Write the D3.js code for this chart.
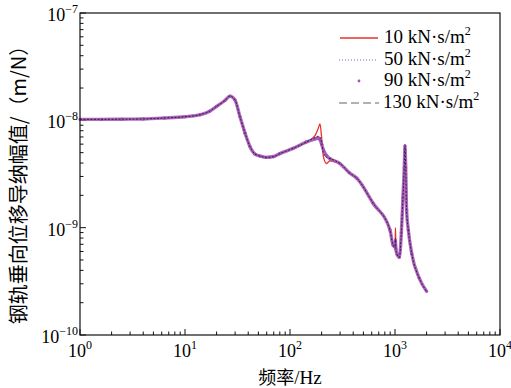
<!DOCTYPE html>
<html>
<head>
<meta charset="utf-8">
<script src="https://cdn.jsdelivr.net/npm/d3@7"></script>
<style>
  html, body { margin: 0; padding: 0; background: #fff; }
</style>
</head>
<body>
<div id="chart"></div>
<script>
// frequency samples (Hz), shared by all series
const freq = [1, 1.6, 2.5, 4, 6.3, 10, 14, 17, 20, 24, 26.8, 29.9, 33.4, 37.3, 41.6, 46.4, 51.8, 59, 70, 80,
  107, 144, 173, 185, 193, 200, 208, 223, 240, 299, 367, 431, 621, 896, 957, 1000, 1011, 1020, 1050, 1099,
  1150, 1190, 1225, 1245, 1265, 1290, 1340, 1443, 1706, 2000];

// rail receptance amplitude (m/N) per damping value
const amp10 = [1.02e-8, 1.02e-8, 1.025e-8, 1.03e-8, 1.05e-8, 1.08e-8, 1.13e-8, 1.21e-8, 1.35e-8, 1.53e-8, 1.68e-8, 1.55e-8, 1.08e-8, 7.6e-9, 5.68e-9, 4.85e-9, 4.65e-9, 4.52e-9, 4.6e-9, 4.9e-9,
  5.48e-9, 6.3e-9, 7.2e-9, 8.3e-9, 9.25e-9, 7.0e-9, 4.6e-9, 3.96e-9, 4.2e-9, 3.96e-9, 3.25e-9, 2.9e-9, 1.68e-9, 9.5e-10, 6.9e-10, 6.6e-10, 1.0e-9, 6.4e-10, 5.6e-10, 5.3e-10,
  9e-10, 1.9e-9, 3.6e-9, 5.9e-9, 3.6e-9, 1.45e-9, 9.5e-10, 5.75e-10, 3.37e-10, 2.55e-10];
const amp50 = [1.02e-8, 1.02e-8, 1.025e-8, 1.03e-8, 1.05e-8, 1.08e-8, 1.13e-8, 1.21e-8, 1.35e-8, 1.53e-8, 1.68e-8, 1.55e-8, 1.08e-8, 7.6e-9, 5.68e-9, 4.85e-9, 4.65e-9, 4.52e-9, 4.6e-9, 4.9e-9,
  5.48e-9, 6.3e-9, 6.9e-9, 7.1e-9, 7.0e-9, 6.2e-9, 5.0e-9, 4.5e-9, 4.4e-9, 3.96e-9, 3.25e-9, 2.9e-9, 1.68e-9, 9.5e-10, 6.9e-10, 6.6e-10, 8.0e-10, 6.3e-10, 5.6e-10, 5.3e-10,
  9e-10, 1.9e-9, 3.6e-9, 5.8e-9, 3.6e-9, 1.45e-9, 9.5e-10, 5.75e-10, 3.37e-10, 2.55e-10];
const amp90 = [1.02e-8, 1.02e-8, 1.025e-8, 1.03e-8, 1.05e-8, 1.08e-8, 1.13e-8, 1.21e-8, 1.35e-8, 1.53e-8, 1.68e-8, 1.55e-8, 1.08e-8, 7.6e-9, 5.68e-9, 4.85e-9, 4.65e-9, 4.52e-9, 4.6e-9, 4.9e-9,
  5.48e-9, 6.3e-9, 6.7e-9, 6.85e-9, 6.6e-9, 6.0e-9, 5.3e-9, 4.7e-9, 4.4e-9, 3.96e-9, 3.25e-9, 2.9e-9, 1.68e-9, 9.5e-10, 6.9e-10, 6.6e-10, 7.6e-10, 6.3e-10, 5.6e-10, 5.3e-10,
  9e-10, 1.9e-9, 3.6e-9, 5.8e-9, 3.6e-9, 1.45e-9, 9.5e-10, 5.75e-10, 3.37e-10, 2.55e-10];
const amp130 = [1.02e-8, 1.02e-8, 1.025e-8, 1.03e-8, 1.05e-8, 1.08e-8, 1.13e-8, 1.21e-8, 1.35e-8, 1.53e-8, 1.68e-8, 1.55e-8, 1.08e-8, 7.6e-9, 5.68e-9, 4.85e-9, 4.65e-9, 4.52e-9, 4.6e-9, 4.9e-9,
  5.48e-9, 6.3e-9, 6.65e-9, 6.75e-9, 6.5e-9, 6.0e-9, 5.4e-9, 4.75e-9, 4.4e-9, 3.96e-9, 3.25e-9, 2.9e-9, 1.68e-9, 9.5e-10, 6.9e-10, 6.6e-10, 7.3e-10, 6.3e-10, 5.6e-10, 5.3e-10,
  9e-10, 1.9e-9, 3.6e-9, 5.8e-9, 3.6e-9, 1.45e-9, 9.5e-10, 5.75e-10, 3.37e-10, 2.55e-10];

const seriesLabels = ['10 kN·s/m', '50 kN·s/m', '90 kN·s/m', '130 kN·s/m'];
const xTickExp = [0, 1, 2, 3, 4];
const yTickExp = [-10, -9, -8, -7];

const SERIF = '"Liberation Serif", "Times New Roman", "DejaVu Serif", serif';
const CJK = '"Noto Sans CJK SC", "Noto Sans CJK JP", sans-serif';

const W = 511, H = 388;
const margin = { top: 13, right: 11, bottom: 53, left: 80 };
const innerW = W - margin.left - margin.right;
const innerH = H - margin.top - margin.bottom;

const svg = d3.select('#chart').append('svg')
  .attr('width', W).attr('height', H);

const x = d3.scaleLog().domain([1, 1e4]).range([margin.left, margin.left + innerW]);
const y = d3.scaleLog().domain([1e-10, 1e-7]).range([margin.top + innerH, margin.top]);

// minor + major ticks, drawn inward on left and bottom
const xMinor = [], yMinor = [];
for (let e = 0; e < 4; e++) for (let k = 2; k <= 9; k++) xMinor.push(k * Math.pow(10, e));
for (let e = -10; e < -7; e++) for (let k = 2; k <= 9; k++) yMinor.push(k * Math.pow(10, e));

const axisG = svg.append('g').attr('stroke', '#111').attr('stroke-width', 1);
xMinor.forEach(v => axisG.append('line')
  .attr('x1', x(v)).attr('x2', x(v)).attr('y1', y.range()[0]).attr('y2', y.range()[0] - 3.5));
xTickExp.forEach(e => axisG.append('line')
  .attr('x1', x(Math.pow(10, e))).attr('x2', x(Math.pow(10, e))).attr('y1', y.range()[0]).attr('y2', y.range()[0] - 6));
yMinor.forEach(v => axisG.append('line')
  .attr('x1', x.range()[0]).attr('x2', x.range()[0] + 3.5).attr('y1', y(v)).attr('y2', y(v)));
yTickExp.forEach(e => axisG.append('line')
  .attr('x1', x.range()[0]).attr('x2', x.range()[0] + 6).attr('y1', y(Math.pow(10, e))).attr('y2', y(Math.pow(10, e))));

// tick labels
xTickExp.forEach(e => {
  const t = svg.append('text')
    .attr('x', x(Math.pow(10, e)))
    .attr('y', 357)
    .attr('text-anchor', 'middle')
    .style('font-family', SERIF)
    .style('font-size', '18px');
  t.append('tspan').text('10');
  t.append('tspan').attr('dy', -8).style('font-size', '12px').text(e);
});
yTickExp.forEach(e => {
  const t = svg.append('text')
    .attr('x', 78)
    .attr('y', y(Math.pow(10, e)) + 8)
    .attr('text-anchor', 'end')
    .style('font-family', SERIF)
    .style('font-size', '18px');
  t.append('tspan').text('10');
  t.append('tspan').attr('dy', -8).style('font-size', '12px').text('\u2212' + (-e));
});

// axis titles
const xt = svg.append('text')
  .attr('x', 290).attr('y', 384)
  .attr('text-anchor', 'middle')
  .style('font-family', SERIF)
  .style('font-size', '19px');
xt.append('tspan').style('font-family', CJK).style('font-size', '18px').text('频率');
xt.append('tspan').text('/Hz');

svg.append('text')
  .attr('transform', `translate(26,${margin.top + innerH / 2 + 6}) rotate(-90)`)
  .attr('text-anchor', 'middle')
  .style('font-family', CJK)
  .style('font-size', '20px')
  .text('钢轨垂向位移导纳幅值/（m/N）');

// curves
const line = vals => d3.line()
  .x((d, i) => x(freq[i]))
  .y(d => y(d))
  .curve(d3.curveMonotoneX)(vals);

const plot = svg.append('g');
plot.append('path').attr('d', line(amp10))
  .attr('fill', 'none').attr('stroke', '#e8322a').attr('stroke-width', 1.3);
plot.append('path').attr('d', line(amp130))
  .attr('fill', 'none').attr('stroke', '#999').attr('stroke-width', 1.3).attr('stroke-dasharray', '8,4');
plot.append('path').attr('d', line(amp90))
  .attr('fill', 'none').attr('stroke', '#a552b5').attr('stroke-width', 3.4).attr('stroke-opacity', 0.85);
plot.selectAll('circle.m90').data(amp90).enter().append('circle')
  .attr('class', 'm90')
  .attr('cx', (d, i) => x(freq[i])).attr('cy', d => y(d)).attr('r', 1.6)
  .attr('fill', '#a552b5');
plot.append('path').attr('d', line(amp50))
  .attr('fill', 'none').attr('stroke', '#2a2550').attr('stroke-width', 1).attr('stroke-dasharray', '2,1.5');

// frame
svg.append('rect')
  .attr('x', margin.left).attr('y', margin.top)
  .attr('width', innerW).attr('height', innerH)
  .attr('fill', 'none').attr('stroke', '#111').attr('stroke-width', 1.2);

// legend
const legend = svg.append('g');
const rowY = [43, 65, 86, 108];
seriesLabels.forEach((lab, i) => {
  const ly = rowY[i] - 5;
  if (i === 0) legend.append('line').attr('x1', 340).attr('x2', 378).attr('y1', ly).attr('y2', ly)
    .attr('stroke', '#e8322a').attr('stroke-width', 1.3);
  if (i === 1) legend.append('line').attr('x1', 339).attr('x2', 378).attr('y1', ly).attr('y2', ly)
    .attr('stroke', '#5a70c0').attr('stroke-width', 1).attr('stroke-dasharray', '1,2');
  if (i === 2) legend.append('circle').attr('cx', 359).attr('cy', ly).attr('r', 1.4).attr('fill', '#a552b5');
  if (i === 3) legend.append('line').attr('x1', 339).attr('x2', 379).attr('y1', ly).attr('y2', ly)
    .attr('stroke', '#999').attr('stroke-width', 1.3).attr('stroke-dasharray', '8,4');
  const t = legend.append('text')
    .attr('x', i === 3 ? 383 : 384).attr('y', rowY[i])
    .style('font-family', SERIF)
    .style('font-size', '19px');
  t.append('tspan').text(lab);
  t.append('tspan').attr('dy', -8).style('font-size', '12px').text('2');
});
</script>
</body>
</html>
